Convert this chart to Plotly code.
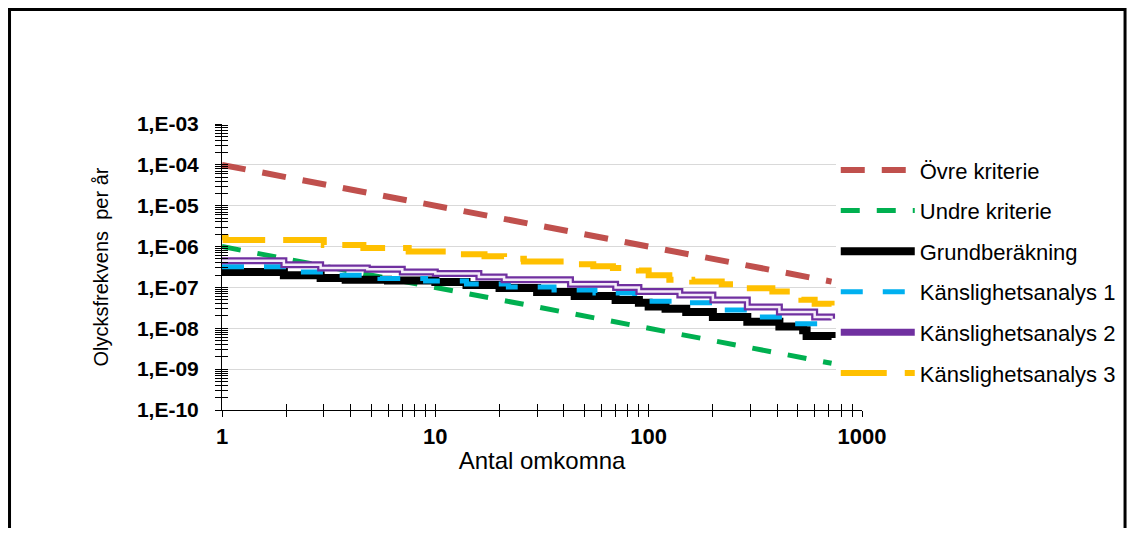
import plotly.graph_objects as go

# ---- data ----
crit_N = [1, 10, 100, 720]
upper_F = [1e-4, 1e-5, 1e-6, 1.39e-7]
lower_F = [1e-6, 1e-7, 1e-8, 1.39e-9]

base_N = [1, 1.95, 2.9, 3.8, 6, 10, 14, 20, 30, 45, 70, 90, 100, 120, 150, 200, 290, 410, 530, 550, 720]
base_F = [2.4e-7, 2.0e-7, 1.7e-7, 1.55e-7, 1.48e-7, 1.36e-7, 1.15e-7, 9.7e-8, 7.7e-8, 6.2e-8, 4.9e-8,
          4.2e-8, 3.4e-8, 3.0e-8, 2.5e-8, 1.9e-8, 1.45e-8, 1.1e-8, 9e-9, 6.5e-9, 5.8e-9]

k1_N = [1, 2.0, 3.3, 5.5, 9, 14, 22, 36, 56, 86, 100, 133, 200, 300, 450, 650, 720]
k1_F = [3.2e-7, 2.4e-7, 2.0e-7, 1.65e-7, 1.44e-7, 1.21e-7, 1.02e-7, 8.6e-8, 7.3e-8, 5.5e-8, 4.6e-8,
        4.2e-8, 2.8e-8, 1.9e-8, 1.3e-8, 1.08e-8, 1.05e-8]

k2_N = [1, 1.95, 2.9, 4.8, 7, 10, 16, 21, 43, 70, 90, 140, 200, 290, 410, 600, 720]
k2_F = [4.5e-7, 3.6e-7, 3.0e-7, 2.8e-7, 2.4e-7, 2.2e-7, 1.8e-7, 1.55e-7, 1.2e-7, 1.0e-7, 8.0e-8,
        6.5e-8, 4.9e-8, 3.3e-8, 2.5e-8, 1.9e-8, 1.7e-8]

k3_N = [1, 1.04, 3.0, 4.6, 7.5, 12, 17, 21, 26, 40, 55, 68, 90, 100, 125, 160, 220, 280, 380, 480, 520, 600, 720]
k3_F = [1.7e-6, 1.45e-6, 1.1e-6, 9.2e-7, 7.6e-7, 6.5e-7, 5.8e-7, 5.0e-7, 4.3e-7, 3.7e-7, 3.3e-7,
        3.0e-7, 2.6e-7, 2.0e-7, 1.55e-7, 1.4e-7, 1.2e-7, 9.5e-8, 8.0e-8, 6.5e-8, 5.0e-8, 4.0e-8, 3.6e-8]

y_major = [1e-10, 1e-9, 1e-8, 1e-7, 1e-6, 1e-5, 1e-4, 1e-3]
y_labels = ["1,E-10", "1,E-09", "1,E-08", "1,E-07", "1,E-06", "1,E-05", "1,E-04", "1,E-03"]
x_major = [1, 10, 100, 1000]
x_labels = ["1", "10", "100", "1000"]

y_minor = [m * d for d in y_major[:-1] for m in range(2, 10)]
x_minor = [m * d for d in x_major[:-1] for m in range(2, 10)]

FONT = "Liberation Sans, Arial, sans-serif"

fig = go.Figure()
fig.add_trace(go.Scatter(x=crit_N, y=upper_F, mode="lines", name="Övre kriterie", legendgroup="a",
                         line=dict(color="#C0504D", width=6, dash="24px,17px")))
fig.add_trace(go.Scatter(x=crit_N, y=lower_F, mode="lines", name="Undre kriterie", legendgroup="b",
                         line=dict(color="#00B050", width=5, dash="19px,17px")))
fig.add_trace(go.Scatter(x=base_N, y=base_F, mode="lines", name="Grundberäkning", legendgroup="c",
                         line=dict(color="#000000", width=8, shape="hv")))
fig.add_trace(go.Scatter(x=k1_N, y=k1_F, mode="lines", name="Känslighetsanalys 1", legendgroup="d",
                         line=dict(color="#00B0F0", width=5, shape="hv", dash="22px,20px")))
fig.add_trace(go.Scatter(x=k2_N, y=k2_F, mode="lines", name="Känslighetsanalys 2", legendgroup="e",
                         line=dict(color="#7030A0", width=7, shape="hv")))
fig.add_trace(go.Scatter(x=k2_N, y=k2_F, mode="lines", name="Känslighetsanalys 2", legendgroup="e",
                         showlegend=False, hoverinfo="skip",
                         line=dict(color="#F4ECF8", width=2.5, shape="hv")))
fig.add_trace(go.Scatter(x=k3_N, y=k3_F, mode="lines", name="Känslighetsanalys 3", legendgroup="f",
                         line=dict(color="#FFC000", width=6, shape="hv", dash="46px,18px")))

# invisible trace to carry overlay axes
fig.add_trace(go.Scatter(x=[1], y=[1e-3], xaxis="x2", yaxis="y2", mode="markers",
                         marker=dict(opacity=0), showlegend=False, hoverinfo="skip"))

axis_common = dict(type="log", showline=True, linecolor="black", linewidth=1,
                   tickcolor="black", ticklen=6, tickwidth=1, zeroline=False)

fig.update_layout(
    width=1119, height=520,
    margin=dict(l=214, r=265, t=116, b=118, autoexpand=False),
    paper_bgcolor="white", plot_bgcolor="white",
    font=dict(family=FONT, color="black", size=20),
    xaxis=dict(axis_common, range=[0, 3], tickmode="array", tickvals=x_major, ticktext=x_labels,
               ticks="outside", showgrid=False, ticklabelstandoff=1,
               tickfont=dict(size=22, family=FONT, weight="bold"),
               minor=dict(tickmode="array", tickvals=x_minor, ticks="outside", ticklen=6,
                          tickcolor="black", showgrid=False),
               title=dict(text="Antal omkomna", font=dict(size=24, family=FONT), standoff=3)),
    yaxis=dict(axis_common, range=[-10, -3], tickmode="array", tickvals=y_major, ticktext=y_labels,
               ticks="outside", showgrid=True, gridcolor="#D9D9D9", gridwidth=1, ticklabelstandoff=12,
               tickfont=dict(size=21, family=FONT, weight="bold"),
               minor=dict(tickmode="array", tickvals=y_minor, ticks="outside", ticklen=6,
                          tickcolor="black", showgrid=False),
               title=dict(text="Olycksfrekvens  per år", font=dict(size=20, family=FONT), standoff=22)),
    xaxis2=dict(axis_common, range=[0, 3], overlaying="x", anchor="y", side="bottom",
                tickmode="array", tickvals=x_major, ticks="inside", showticklabels=False, showgrid=False,
                minor=dict(tickmode="array", tickvals=x_minor, ticks="inside", ticklen=6,
                           tickcolor="black", showgrid=False)),
    yaxis2=dict(axis_common, range=[-10, -3], overlaying="y", anchor="x", side="left",
                tickmode="array", tickvals=y_major, ticks="inside", showticklabels=False, showgrid=False,
                minor=dict(tickmode="array", tickvals=y_minor, ticks="inside", ticklen=6,
                           tickcolor="black", showgrid=False)),
    legend=dict(x=0.959, xanchor="left", y=0.912, yanchor="top", bgcolor="white",
                font=dict(size=22, family=FONT), itemwidth=74, tracegroupgap=9,
                traceorder="grouped"),
    shapes=[dict(type="rect", xref="paper", yref="paper", x0=-0.332, x1=1.411, y0=-0.6, y1=1.400,
                 line=dict(color="black", width=3), fillcolor="rgba(0,0,0,0)", layer="above")],
    showlegend=True,
)

fig.write_html("out.html")
